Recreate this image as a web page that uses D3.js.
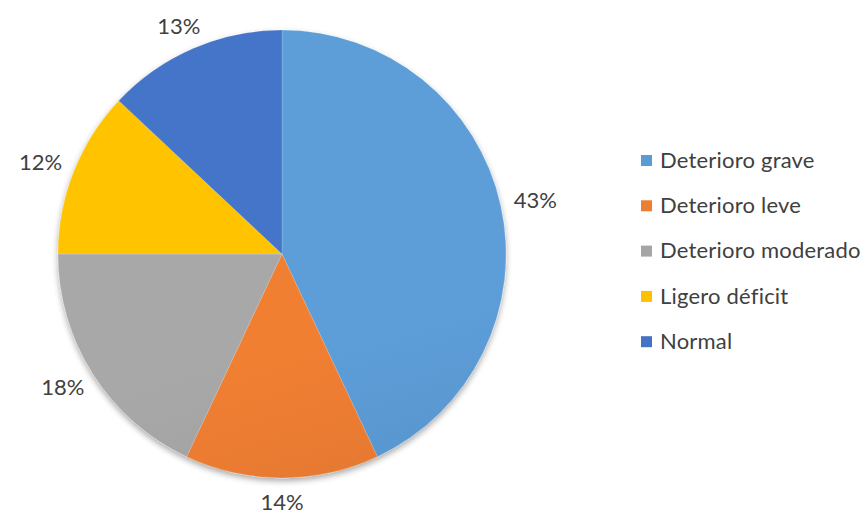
<!DOCTYPE html>
<html>
<head>
<meta charset="utf-8">
<script src="https://cdn.jsdelivr.net/npm/d3@7"></script>
<style>
  html, body { margin: 0; padding: 0; background: #fff; }
  svg text { font-family: Lato, "Open Sans", sans-serif; fill: #404040; }
</style>
</head>
<body>
<svg id="chart" width="868" height="522"></svg>
<script>
// Categories and their shares (percent)
const categories = ["Deterioro grave", "Deterioro leve", "Deterioro moderado", "Ligero déficit", "Normal"];
const values = [43, 14, 18, 12, 13];
const colors = ["#5b9bd5", "#ed7d31", "#a5a5a5", "#ffc000", "#4472c4"];

const svg = d3.select("#chart");
const cx = 282, cy = 254, r = 224;
const fontSize = 22;

const defs = svg.append("defs");

// soft drop shadow under the pie
const shadow = defs.append("filter").attr("id", "shadow")
  .attr("x", "-10%").attr("y", "-10%").attr("width", "120%").attr("height", "125%");
shadow.append("feGaussianBlur").attr("in", "SourceAlpha").attr("stdDeviation", 3);
shadow.append("feOffset").attr("dx", 0).attr("dy", 3).attr("result", "blur");
shadow.append("feComponentTransfer").append("feFuncA").attr("type", "linear").attr("slope", 0.35);
const merge = shadow.append("feMerge");
merge.append("feMergeNode");
merge.append("feMergeNode").attr("in", "SourceGraphic");

// per-slice gradient: lighter at the top, deeper toward the bottom
colors.forEach((c, i) => {
  const g = defs.append("linearGradient").attr("id", "grad" + i)
    .attr("gradientUnits", "userSpaceOnUse")
    .attr("x1", cx - r * 0.3).attr("y1", cy - r).attr("x2", cx + r * 0.3).attr("y2", cy + r);
  g.append("stop").attr("offset", "0%").attr("stop-color", d3.color(c).brighter(0.05));
  g.append("stop").attr("offset", "100%").attr("stop-color", d3.color(c).darker(0.4));
});

const pie = d3.pie().sort(null).value(d => d)(values);
const arc = d3.arc().innerRadius(0).outerRadius(r);

const g = svg.append("g").attr("transform", `translate(${cx},${cy})`);
g.append("g").attr("filter", "url(#shadow)")
  .selectAll("path").data(pie).join("path")
  .attr("d", arc)
  .attr("fill", (d, i) => `url(#grad${i})`)
  .attr("stroke", "rgba(255,255,255,0.25)")
  .attr("stroke-width", 0.6);

// percentage labels just outside each slice
const pad = 14;
g.selectAll("text.lbl").data(pie).join("text")
  .attr("class", "lbl")
  .each(function(d) {
    const a = (d.startAngle + d.endAngle) / 2;
    const dx = Math.sin(a), dy = -Math.cos(a);
    const t = d3.select(this).text(d.data + "%").attr("font-size", fontSize);
    const w = this.getComputedTextLength();
    const x = (r + pad) * dx + dx * w / 2;
    const y = (r + pad) * dy + dy * 10;
    t.attr("x", x).attr("y", y).attr("text-anchor", "middle").attr("dy", "0.35em");
  });

// legend
const legend = svg.append("g").attr("transform", "translate(641,160)");
const rows = legend.selectAll("g").data(categories).join("g")
  .attr("transform", (d, i) => `translate(0,${i * 45.3})`);
rows.append("rect").attr("x", 0).attr("y", -5).attr("width", 11).attr("height", 11)
  .attr("fill", (d, i) => colors[i]);
rows.append("text").attr("x", 19).attr("dy", "0.35em").attr("font-size", fontSize)
  .attr("letter-spacing", 0.2).text(d => d);
</script>
</body>
</html>
